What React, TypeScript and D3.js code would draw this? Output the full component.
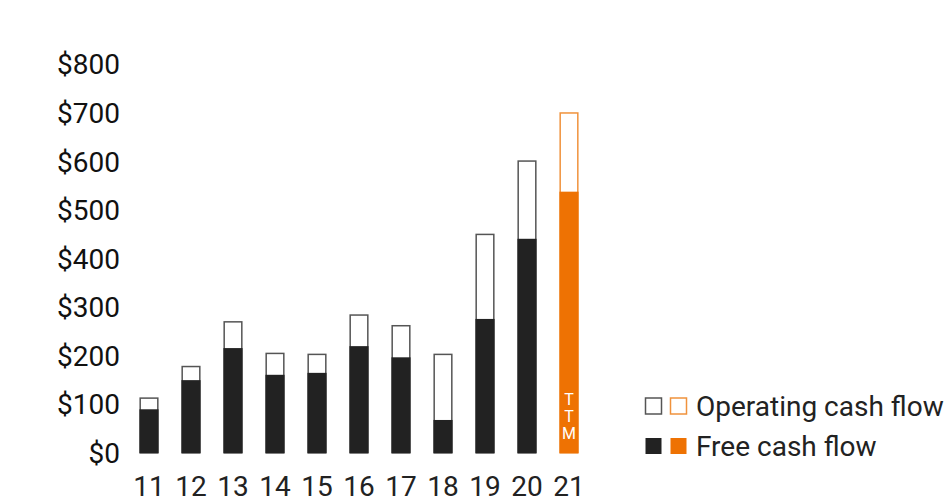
import { useEffect, useRef } from 'react'
import * as d3 from 'd3'

const years = ['11', '12', '13', '14', '15', '16', '17', '18', '19', '20', '21']
const operatingCashFlow = [113, 178, 270, 205, 203, 284, 262, 203, 450, 601, 700]
const freeCashFlow = [90, 150, 216, 161, 165, 220, 197, 68, 276, 441, 538]
const yTicks = [0, 100, 200, 300, 400, 500, 600, 700, 800]
const legendItems = ['Operating cash flow', 'Free cash flow']

const BLACK = '#222222'
const ORANGE = '#ee7203'
const GRAY_EDGE = '#555555'
const ORANGE_EDGE = '#f0923c'

export default function App() {
  const svgRef = useRef<SVGSVGElement>(null)

  useEffect(() => {
    const svg = d3.select(svgRef.current)
    svg.selectAll('*').remove()

    const width = 948
    const height = 497
    svg.attr('width', width).attr('height', height)

    const x = d3.scaleBand<string>()
      .domain(years)
      .range([128, 590])
      .paddingInner(0.58)
      .paddingOuter(0.29)

    const y = d3.scaleLinear()
      .domain([0, 800])
      .range([453, 64.4])

    const font = 'Roboto, sans-serif'

    // y labels
    svg.append('g')
      .selectAll('text')
      .data(yTicks)
      .enter()
      .append('text')
      .attr('x', 120)
      .attr('y', d => y(d) + 10)
      .attr('text-anchor', 'end')
      .attr('font-family', font)
      .attr('font-size', 28)
      .attr('fill', '#111')
      .text(d => `$${d}`)

    // bars
    const bars = svg.append('g')
      .selectAll('g')
      .data(years)
      .enter()
      .append('g')

    bars.each(function (yr, i) {
      const grp = d3.select(this)
      const last = i === years.length - 1
      const bx = x(yr) as number
      const bw = x.bandwidth()
      grp.append('rect')
        .attr('x', bx)
        .attr('y', y(operatingCashFlow[i]))
        .attr('width', bw)
        .attr('height', y(0) - y(operatingCashFlow[i]))
        .attr('fill', '#fff')
        .attr('stroke', last ? ORANGE_EDGE : GRAY_EDGE)
        .attr('stroke-width', 1.5)
      grp.append('rect')
        .attr('x', bx - 0.75)
        .attr('y', y(freeCashFlow[i]))
        .attr('width', bw + 1.5)
        .attr('height', y(0) - y(freeCashFlow[i]))
        .attr('fill', last ? ORANGE : BLACK)

      // TTM tag stacked inside the last bar
      if (last) {
        ;['T', 'T', 'M'].forEach((ch, k) => {
          grp.append('text')
            .attr('x', bx + bw / 2)
            .attr('y', y(0) - 54 + k * 17)
            .attr('dy', '0.35em')
            .attr('text-anchor', 'middle')
            .attr('font-family', font)
            .attr('font-size', 16)
            .attr('fill', '#fff')
            .text(ch)
        })
      }
    })

    // x labels
    svg.append('g')
      .selectAll('text')
      .data(years)
      .enter()
      .append('text')
      .attr('x', d => (x(d) as number) + x.bandwidth() / 2)
      .attr('y', 496)
      .attr('text-anchor', 'middle')
      .attr('font-family', font)
      .attr('font-size', 28)
      .attr('fill', '#222')
      .text(d => d)

    // legend
    const legend = svg.append('g')
    legendItems.forEach((label, i) => {
      const ly = 406 + i * 40
      const filled = i === 1
      legend.append('rect')
        .attr('x', 645.5)
        .attr('y', ly - 8)
        .attr('width', 16)
        .attr('height', 16)
        .attr('fill', filled ? BLACK : '#fff')
        .attr('stroke', filled ? 'none' : GRAY_EDGE)
        .attr('stroke-width', 1.5)
      legend.append('rect')
        .attr('x', 670.5)
        .attr('y', ly - 8)
        .attr('width', 16)
        .attr('height', 16)
        .attr('fill', filled ? ORANGE : '#fff')
        .attr('stroke', filled ? 'none' : ORANGE_EDGE)
        .attr('stroke-width', 1.5)
      legend.append('text')
        .attr('x', 696)
        .attr('y', ly + 10)
        .attr('font-family', font)
        .attr('font-size', 28)
        .attr('fill', '#222')
        .text(label)
    })
  }, [])

  return (
    <div style={{ position: 'absolute', left: 0, top: 0, width: 948, height: 497, background: '#fff' }}>
      <svg ref={svgRef} style={{ display: 'block' }} />
    </div>
  )
}
